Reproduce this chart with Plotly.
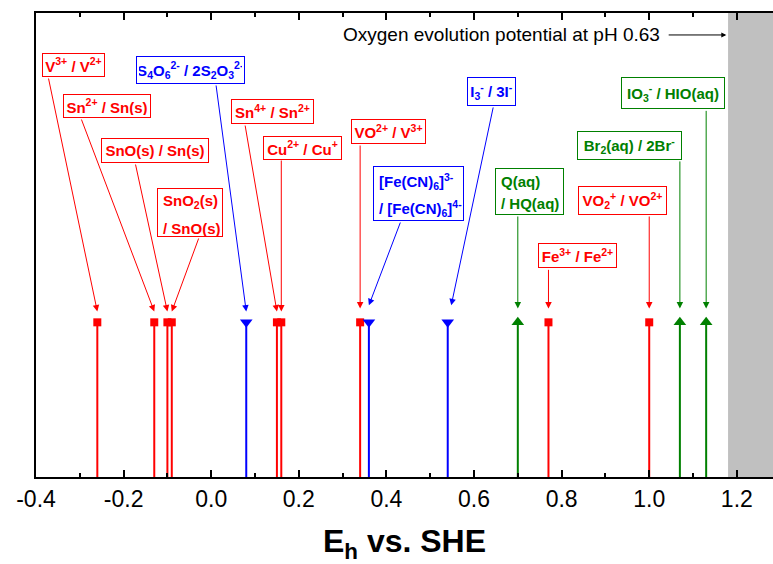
import plotly.graph_objects as go

# ---------------- data ----------------
red_labels = [
    "V<sup>3+</sup> / V<sup>2+</sup>",
    "Sn<sup>2+</sup> / Sn(s)",
    "SnO(s) / Sn(s)",
    "SnO<sub>2</sub>(s)<br>/ SnO(s)",
    "Sn<sup>4+</sup> / Sn<sup>2+</sup>",
    "Cu<sup>2+</sup> / Cu<sup>+</sup>",
    "VO<sup>2+</sup> / V<sup>3+</sup>",
    "Fe<sup>3+</sup> / Fe<sup>2+</sup>",
    "VO<sub>2</sub><sup>+</sup> / VO<sup>2+</sup>",
]
red_E = [-0.26, -0.13, -0.10, -0.09, 0.15, 0.16, 0.34, 0.77, 1.00]

blue_labels = [
    "S<sub>4</sub>O<sub>6</sub><sup>2-</sup> / 2S<sub>2</sub>O<sub>3</sub><sup>2-</sup>",
    "[Fe(CN)<sub>6</sub>]<sup>3-</sup><br>/ [Fe(CN)<sub>6</sub>]<sup>4-</sup>",
    "I<sub>3</sub><sup>-</sup> / 3I<sup>-</sup>",
]
blue_E = [0.08, 0.36, 0.54]

green_labels = [
    "Q(aq)<br>/ HQ(aq)",
    "Br<sub>2</sub>(aq) / 2Br<sup>-</sup>",
    "IO<sub>3</sub><sup>-</sup> / HIO(aq)",
]
green_E = [0.70, 1.07, 1.13]

oxygen_E = 1.18
oxygen_text = "Oxygen evolution potential at pH 0.63"
tick_vals = [-0.4, -0.2, 0.0, 0.2, 0.4, 0.6, 0.8, 1.0, 1.2]
x_title = "E<sub>h</sub> vs. SHE"

# ---------------- layout of labels (box left, box top, outer w, outer h, tail x, tail y, head dx, head y, line offsets) ----
red_layout = [
    (-0.3852, 2.739, 63, 24, -0.3721, 2.586, 0.0, 1.07, None),
    (-0.3395, 2.474, 88, 24, -0.2975, 2.321, 0.0, 1.07, None),
    (-0.2518, 2.190, 108, 25, -0.1735, 2.030, 0.0, 1.07, None),
    (-0.1249, 1.870, 66, 49, -0.0274, 1.552, 0.0, 1.07, [14, 40.6]),
    (0.0450, 2.444, 83, 25, 0.0769, 2.282, 0.0, 1.07, None),
    (0.1171, 2.207, 79, 24, 0.16, 2.056, 0.0, 1.07, None),
    (0.3190, 2.315, 75, 25, 0.34, 2.153, 0.0, 1.09, None),
    (0.7466, 1.511, 79, 25, 0.77, 1.349, 0.0, 1.09, None),
    (0.8379, 1.881, 89, 29, 1.00, 1.694, 0.0, 1.09, None),
]
blue_layout = [
    (-0.1719, 2.722, 109, 28, 0.0107, 2.541, 0.0, 1.07, None),
    (0.3683, 2.011, 91, 55, 0.4331, 1.655, 0.0, 1.11, [15.7, 42.3]),
    (0.5829, 2.584, 49, 29, 0.6445, 2.399, 0.008, 1.11, None),
]
green_layout = [
    (0.6477, 1.996, 69, 47, 0.70, 1.694, 0.0, 1.09, [13.4, 35]),
    (0.8349, 2.237, 105, 29, 1.07, 2.050, 0.0, 1.09, None),
    (0.9354, 2.584, 104, 32, 1.13, 2.377, 0.0, 1.09, None),
]

RED = "#FF0000"
BLUE = "#0000FF"
GREEN = "#008000"
FONT = "Liberation Sans, Arial, sans-serif"
LABEL_SIZE = 15

fig = go.Figure()

groups = [
    (red_E, red_labels, red_layout, RED, "square", 8),
    (blue_E, blue_labels, blue_layout, BLUE, "triangle-down", 11),
    (green_E, green_labels, green_layout, GREEN, "triangle-up", 11),
]

annotations = []
for E, labels, lay, color, symbol, msize in groups:
    xs, ys = [], []
    for e in E:
        xs += [e, e, None]
        ys += [0, 1, None]
    fig.add_trace(go.Scatter(x=xs, y=ys, mode="lines",
                             line=dict(color=color, width=2),
                             hoverinfo="skip", showlegend=False))
    fig.add_trace(go.Scatter(x=E, y=[1] * len(E), mode="markers",
                             marker=dict(symbol=symbol, size=msize, color=color,
                                         line=dict(width=0)),
                             showlegend=False))
    pad = 2
    for e, lab, (bx, by, w, h, tx, ty, hdx, hy, offs) in zip(E, labels, lay):
        # arrow
        annotations.append(dict(
            x=e + hdx, y=hy, xref="x", yref="y",
            ax=tx, ay=ty, axref="x", ayref="y",
            text="", showarrow=True, arrowhead=2, arrowsize=1.3,
            arrowwidth=1, arrowcolor=color, standoff=0, startstandoff=0))
        if offs is None:
            annotations.append(dict(
                x=bx, y=by, xref="x", yref="y", xanchor="left", yanchor="top",
                text=lab, showarrow=False, align="center", valign="middle",
                width=w - 2 * (pad + 1), height=h - 2 * (pad + 1),
                bordercolor=color, borderwidth=1, borderpad=pad, bgcolor="white",
                font=dict(family=FONT, size=LABEL_SIZE, color=color, weight="bold")))
        else:
            annotations.append(dict(
                x=bx, y=by, xref="x", yref="y", xanchor="left", yanchor="top",
                text="&nbsp;", showarrow=False,
                width=w - 2 * (pad + 1), height=h - 2 * (pad + 1),
                bordercolor=color, borderwidth=1, borderpad=pad, bgcolor="white",
                font=dict(family=FONT, size=LABEL_SIZE, color=color, weight="bold")))
            for line, off in zip(lab.split("<br>"), offs):
                annotations.append(dict(
                    x=bx, y=by, xref="x", yref="y", xanchor="left", yanchor="middle",
                    xshift=4, yshift=-off, text=line, showarrow=False,
                    font=dict(family=FONT, size=LABEL_SIZE, color=color, weight="bold")))

# oxygen evolution text + arrow
annotations.append(dict(
    x=1.0297, y=2.858, xref="x", yref="y", xanchor="right", yanchor="middle",
    text=oxygen_text, showarrow=False,
    font=dict(family=FONT, size=19, color="black")))
annotations.append(dict(
    x=1.176, y=2.858, xref="x", yref="y", ax=1.041, ay=2.858, axref="x", ayref="y",
    text="", showarrow=True, arrowhead=2, arrowsize=1, arrowwidth=1,
    arrowcolor="black", standoff=0, startstandoff=0))

fig.update_layout(
    width=773, height=564,
    margin=dict(l=36, r=0, t=13, b=87),
    paper_bgcolor="white", plot_bgcolor="white",
    showlegend=False,
    annotations=annotations,
    shapes=[dict(type="rect", xref="x", yref="paper", x0=oxygen_E, x1=1.2826,
                 y0=0, y1=1, fillcolor="#C0C0C0", line=dict(width=0), layer="below")],
    xaxis=dict(range=[-0.4, 1.2826], tickvals=tick_vals,
               ticktext=[f"{v:.1f}" for v in tick_vals],
               ticks="inside", ticklen=7, tickwidth=1.5, tickcolor="black",
               minor=dict(dtick=0.1, tick0=-0.4, ticks="inside", ticklen=4,
                          tickwidth=1.5, tickcolor="black"),
               showline=True, linewidth=2, linecolor="black", mirror="ticks",
               showgrid=False, zeroline=False,
               tickfont=dict(family=FONT, size=23, color="black"),
               title=dict(text=x_title, standoff=20,
                          font=dict(family=FONT, size=32, color="black", weight="bold"))),
    yaxis=dict(range=[0, 3], showticklabels=False, ticks="", showgrid=False,
               zeroline=False, showline=True, linewidth=2, linecolor="black"),
)

fig.write_html("out.html")
